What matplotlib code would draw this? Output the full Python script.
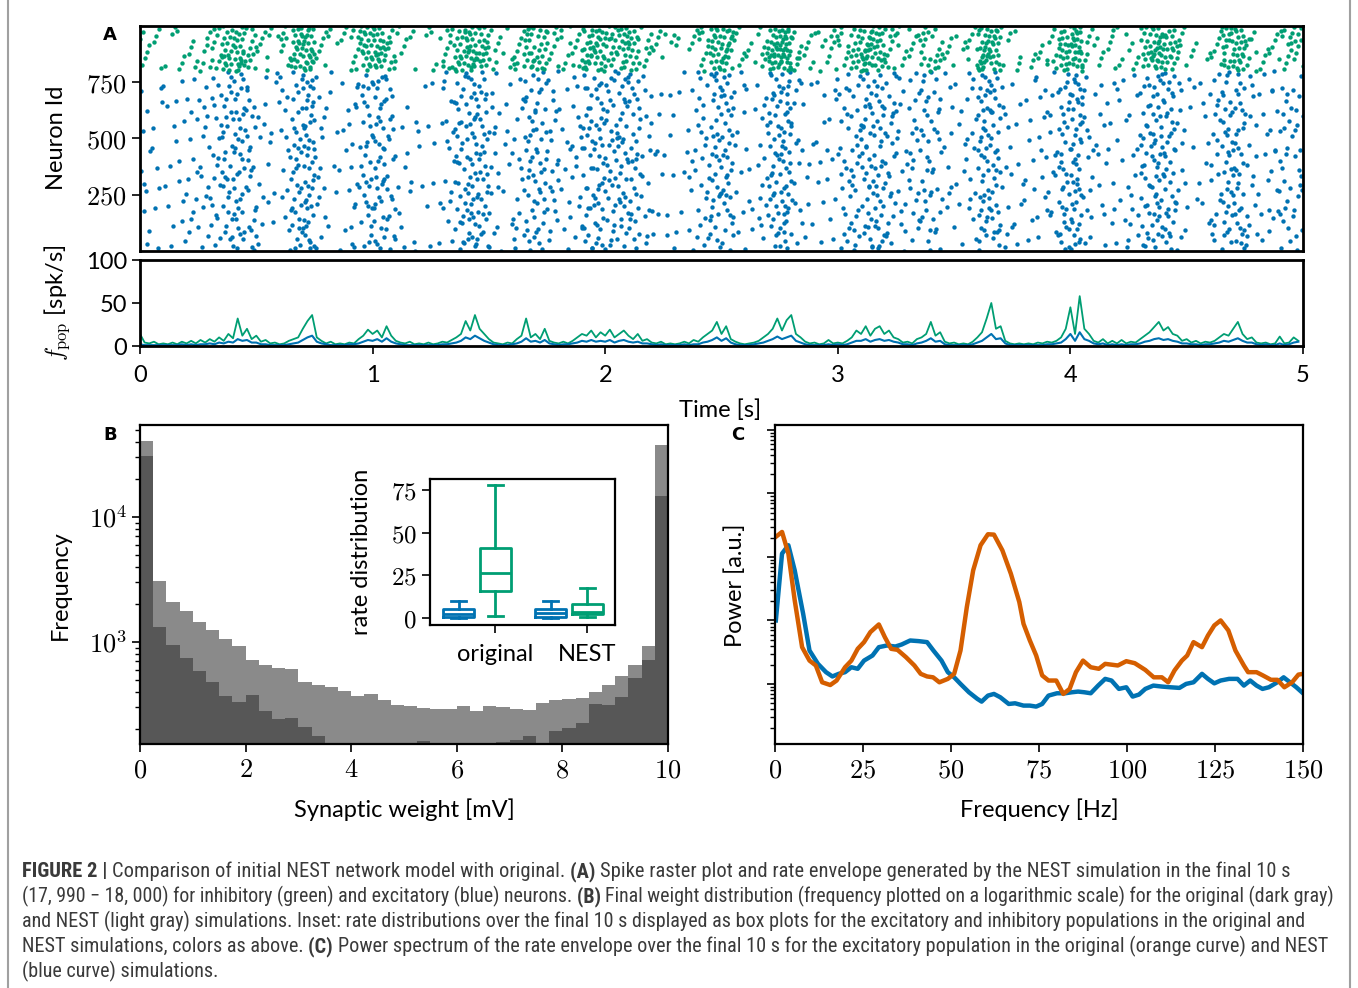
import numpy as np
import matplotlib
matplotlib.use("Agg")
import matplotlib.pyplot as plt
from matplotlib import font_manager as fm
from matplotlib.lines import Line2D
from matplotlib.ticker import FixedLocator, FixedFormatter, NullFormatter, LogLocator

plt.rcParams['mathtext.fontset'] = 'cm'

# ---------------- DATA ----------------
# Raster: spike counts per 50 ms bin (0..5 s)
bin_width = 0.05
exc_counts = [10, 8, 8, 10, 12, 15, 20, 30, 35, 25, 10, 8, 15, 35, 45, 15, 6, 8, 15, 30, 35, 25, 8, 6, 6,
              6, 15, 30, 40, 35, 15, 8, 15, 30, 30, 20, 10, 15, 30, 35, 30, 35, 30, 15, 8, 8, 6, 12, 20, 35,
              35, 10, 8, 15, 35, 45, 15, 8, 8, 10, 20, 25, 35, 35, 25, 15, 20, 25, 20, 10, 8, 15, 40, 35, 12,
              8, 10, 12, 15, 35, 45, 15, 10, 10, 10, 12, 30, 40, 35, 15, 6, 8, 20, 35, 35, 15, 10, 15, 20, 20]
inh_counts = [6, 4, 3, 4, 5, 6, 10, 18, 22, 12, 6, 3, 8, 20, 25, 6, 3, 3, 10, 20, 22, 12, 5, 3, 2,
              4, 10, 18, 25, 18, 6, 4, 8, 18, 15, 8, 6, 8, 20, 20, 15, 18, 15, 8, 5, 3, 2, 4, 10, 20,
              20, 6, 4, 8, 25, 30, 8, 6, 5, 8, 8, 15, 25, 20, 10, 6, 6, 12, 10, 5, 3, 6, 25, 20, 4,
              4, 3, 4, 8, 20, 25, 6, 5, 5, 4, 5, 15, 25, 18, 8, 3, 2, 6, 18, 20, 8, 4, 5, 10, 10]
n_exc = 800
n_inh = 200

# Population rate (20 ms resolution), spk/s
rate_dt = 0.02
rate_inh = [14, 4, 3, 5, 2, 3, 2, 4, 2, 5, 3, 6, 3, 7, 4, 8, 5, 10, 6, 14, 9, 32, 12, 20, 8,
            12, 5, 7, 3, 4, 2, 3, 6, 8, 10, 20, 29, 36, 10, 6, 3, 5, 2, 3, 2, 4, 3, 8, 12, 19,
            14, 18, 10, 23, 12, 6, 4, 3, 5, 2, 3, 2, 4, 2, 3, 5, 4, 7, 10, 14, 29, 18, 36, 20, 14,
            8, 4, 3, 2, 4, 3, 8, 12, 32, 10, 14, 8, 20, 6, 4, 3, 5, 3, 6, 10, 14, 12, 18, 10, 16,
            12, 19, 10, 14, 18, 12, 8, 14, 6, 8, 4, 3, 5, 2, 3, 2, 3, 5, 3, 7, 5, 10, 14, 18, 28,
            14, 23, 8, 5, 3, 2, 3, 4, 6, 10, 14, 20, 32, 18, 30, 36, 14, 10, 5, 3, 4, 2, 3, 7, 3,
            4, 3, 6, 10, 18, 14, 23, 12, 20, 23, 14, 18, 10, 8, 4, 5, 3, 8, 10, 14, 28, 12, 16, 5, 3,
            4, 2, 3, 2, 5, 10, 16, 32, 50, 20, 23, 6, 3, 2, 3, 2, 3, 2, 4, 3, 5, 4, 6, 10, 20,
            45, 14, 58, 20, 14, 6, 4, 8, 3, 6, 3, 7, 3, 5, 4, 8, 12, 16, 22, 28, 18, 22, 14, 12, 6,
            8, 4, 6, 3, 5, 4, 6, 10, 14, 12, 20, 28, 14, 8, 10, 4, 3, 4, 2, 3, 11, 3, 4, 10, 6]
rate_exc = [2, 1, 1, 1, 1, 1, 1, 1, 1, 2, 1, 2, 1, 2, 2, 3, 2, 4, 3, 5, 4, 8, 6, 7, 4,
            4, 2, 2, 1, 1, 1, 1, 2, 3, 4, 7, 10, 12, 5, 3, 2, 1, 1, 1, 1, 2, 2, 3, 5, 7,
            6, 8, 5, 9, 5, 3, 2, 1, 1, 1, 1, 1, 1, 1, 1, 2, 2, 3, 4, 6, 10, 8, 12, 9, 6,
            4, 2, 1, 1, 1, 2, 3, 5, 9, 5, 6, 4, 7, 3, 2, 1, 2, 2, 3, 4, 6, 5, 7, 5, 6,
            5, 7, 4, 6, 7, 5, 4, 5, 3, 3, 2, 1, 2, 1, 1, 1, 1, 2, 1, 2, 2, 4, 5, 7, 10,
            6, 9, 4, 2, 1, 1, 1, 2, 3, 4, 6, 8, 11, 8, 10, 12, 6, 4, 2, 1, 1, 1, 1, 2, 1,
            2, 1, 2, 4, 6, 6, 8, 5, 7, 8, 6, 7, 5, 4, 2, 2, 1, 3, 4, 6, 9, 5, 6, 2, 1,
            1, 1, 1, 1, 2, 4, 6, 10, 14, 8, 9, 3, 1, 1, 1, 1, 1, 1, 1, 1, 2, 2, 3, 4, 8,
            14, 6, 16, 8, 6, 3, 2, 3, 1, 2, 1, 2, 1, 2, 2, 3, 5, 6, 8, 9, 7, 8, 6, 5, 3,
            3, 2, 2, 1, 2, 2, 3, 4, 6, 5, 7, 9, 6, 4, 4, 2, 1, 2, 1, 1, 3, 1, 2, 4, 5]

# Weight histogram (bins of 0.25 mV from 0 to 10)
w_bin = 0.25
hist_nest = [40200, 3080, 2100, 1770, 1450, 1240, 1060, 923, 722, 657, 618, 608, 481, 455, 441, 409,
             371, 385, 344, 314, 308, 299, 290, 294, 308, 283, 308, 304, 290, 287, 328, 344, 353, 360,
             402, 452, 531, 657, 935, 37600]
hist_orig = [30800, 1320, 952, 745, 582, 475, 371, 334, 375, 283, 243, 248, 211, 177, 150, 157,
             157, 155, 140, 140, 140, 163, 140, 140, 140, 140, 157, 160, 165, 177, 140, 195, 205, 225,
             318, 314, 366, 514, 713, 14700]

# Inset box plot stats (rate distribution)
box_labels = ["original", "NEST"]
box_exc_orig = dict(whislo=0.3, q1=0.8, med=2.7, q3=5.3, whishi=10)
box_inh_orig = dict(whislo=1.2, q1=16, med=26.3, q3=41, whishi=78)
box_exc_nest = dict(whislo=0.3, q1=0.8, med=2.9, q3=5.3, whishi=10)
box_inh_nest = dict(whislo=0.4, q1=2.3, med=3.8, q3=8.2, whishi=17.5)

# Power spectra
freq_orig = [0.2, 2.0, 3.8, 5.6, 7.7, 9.8, 11.6, 13.4, 15.7, 17.5, 19.9, 21.7, 23.5, 25.3, 27.1, 29.5,
             31.2, 33.0, 34.8, 37.2, 39.6, 41.4, 43.2, 44.9, 46.7, 49.1, 50.9, 52.7, 54.5, 56.3, 58.4,
             60.5, 62.2, 64.6, 67.0, 69.4, 70.6, 72.4, 74.2, 75.9, 77.7, 79.9, 81.9, 83.7, 85.5, 87.5,
             89.7, 92.0, 93.8, 97.4, 99.8, 102.2, 105.2, 107.6, 109.9, 111.7, 113.5, 115.6, 117.1,
             118.9, 121.3, 123.0, 124.8, 126.6, 128.8, 130.8, 133.2, 134.4, 136.8, 138.6, 140.9,
             142.7, 144.7, 146.9, 148.7, 150.0]
power_orig = [207, 248, 113, 20.7, 3.79, 2.33, 1.95, 1.06, 0.96, 1.13, 1.83, 2.33, 3.57, 4.55, 6.55,
              8.65, 5.46, 3.57, 3.44, 2.64, 1.95, 1.44, 1.31, 1.27, 1.06, 1.20, 1.44, 3.36, 16.3, 61.5,
              153, 228, 225, 127, 54.6, 19.5, 8.85, 4.83, 2.80, 1.36, 1.13, 1.13, 0.695, 0.834, 1.53,
              2.33, 1.83, 1.73, 2.07, 1.95, 2.28, 2.12, 1.66, 1.27, 1.27, 1.06, 1.63, 2.33, 2.80, 4.55,
              3.79, 5.79, 8.34, 10.0, 6.95, 3.36, 1.95, 1.53, 1.53, 1.36, 1.16, 1.16, 0.885, 1.06,
              1.40, 1.44]
freq_nest = [0.24, 2.0, 3.8, 5.6, 8.0, 9.8, 12.2, 14.5, 16.3, 18.1, 19.9, 21.7, 23.5, 25.3, 27.7,
             29.5, 31.8, 34.2, 36.0, 38.4, 40.8, 43.2, 45.0, 47.3, 49.1, 50.9, 52.7, 55.1, 57.5, 58.7,
             60.5, 62.2, 64.0, 66.4, 68.2, 70.6, 72.4, 74.2, 75.9, 77.7, 80.1, 82.5, 84.3, 86.1, 87.9,
             89.7, 91.8, 93.8, 95.6, 97.7, 99.8, 101.6, 103.4, 105.2, 107.5, 109.9, 112.3, 114.9,
             116.8, 118.9, 121.3, 123.0, 124.8, 126.6, 129.0, 131.4, 133.2, 135.0, 136.8, 138.5,
             140.3, 142.7, 144.5, 146.3, 148.1, 150.0]
power_nest = [10.0, 113, 153, 61.5, 12.7, 3.36, 2.07, 1.53, 1.31, 1.44, 1.53, 1.83, 1.73, 2.33, 2.80,
              3.79, 4.03, 3.88, 4.18, 4.83, 4.72, 4.55, 3.36, 2.33, 1.53, 1.27, 1.0, 0.738, 0.580,
              0.526, 0.654, 0.695, 0.616, 0.483, 0.495, 0.455, 0.455, 0.439, 0.483, 0.654, 0.712,
              0.712, 0.738, 0.757, 0.738, 0.712, 0.941, 1.20, 1.13, 0.834, 0.885, 0.631, 0.679, 0.834,
              0.941, 0.908, 0.885, 0.865, 1.0, 1.06, 1.44, 1.20, 1.02, 1.13, 1.20, 1.20, 0.941, 1.13,
              0.941, 0.834, 0.885, 1.06, 1.27, 1.06, 0.885, 0.712]

caption_lines = [
    [("FIGURE 2 | ", "bold"), ("Comparison of initial NEST network model with original. ", "normal"),
     ("(A) ", "bold"), ("Spike raster plot and rate envelope generated by the NEST simulation in the final 10 s", "normal")],
    [("(17, 990 \u2212 18, 000) for inhibitory (green) and excitatory (blue) neurons. ", "normal"), ("(B) ", "bold"),
     ("Final weight distribution (frequency plotted on a logarithmic scale) for the original (dark gray)", "normal")],
    [("and NEST (light gray) simulations. Inset: rate distributions over the final 10 s displayed as box plots for the excitatory and inhibitory populations in the original and", "normal")],
    [("NEST simulations, colors as above. ", "normal"), ("(C) ", "bold"),
     ("Power spectrum of the rate envelope over the final 10 s for the excitatory population in the original (orange curve) and NEST", "normal")],
    [("(blue curve) simulations.", "normal")],
]
caption_line_ends = [1283, 1338, 1303, 1327, None]

# ---------------- STYLE ----------------
BLUE = "#0072b2"
GREEN = "#009e73"
ORANGE = "#d55e00"
W, H = 1358, 988


def has_font(name):
    try:
        fm.findfont(fm.FontProperties(family=name), fallback_to_default=False)
        return True
    except Exception:
        return False


SANS = next(f for f in ["Lato", "DejaVu Sans"] if has_font(f))
CAPF = next(f for f in ["Liberation Sans Narrow", "Roboto Condensed", "Roboto", "Liberation Sans", "DejaVu Sans"] if has_font(f))
plt.rcParams['font.family'] = [SANS, 'DejaVu Sans']

fig = plt.figure(figsize=(W / 100, H / 100), dpi=100)


def ax_rect(l, t, r, b):
    return [l / W, 1 - b / H, (r - l) / W, (b - t) / H]


def style_axes(ax, lw=1.6):
    for s in ax.spines.values():
        s.set_linewidth(lw)
    ax.tick_params(direction='out', length=6, width=1.2)


def mlabels(vals):
    return ["$%s$" % v for v in vals]


def radical_inverse(k, base):
    f, r = 1.0, 0.0
    while k > 0:
        f /= base
        r += f * (k % base)
        k //= base
    return r


# ---- Raster (spikes placed within their 50 ms bin by a low-discrepancy layout) ----
ax_r = fig.add_axes(ax_rect(140, 26, 1303, 251))
g1, g2 = 0.6180339887, 0.7548776662
te, ne, ti, ni = [], [], [], []
k = 0
for i, c in enumerate(exc_counts):
    for j in range(c):
        k += 1
        te.append((i + (radical_inverse(k, 2) + i * g1) % 1) * bin_width)
        ne.append(((radical_inverse(k, 3) + i * g2) % 1) * n_exc)
k = 0
for i, c in enumerate(inh_counts):
    for j in range(c):
        k += 1
        ti.append((i + (radical_inverse(k, 5) + i * g2) % 1) * bin_width)
        ni.append(n_exc + ((radical_inverse(k, 7) + i * g1) % 1) * n_inh)
ax_r.scatter(te, ne, s=10, c=BLUE, linewidths=0)
ax_r.scatter(ti, ni, s=10, c=GREEN, linewidths=0)
ax_r.set_xlim(0, 5)
ax_r.set_ylim(0, 1000)
ax_r.set_xticks([])
ax_r.yaxis.set_major_locator(FixedLocator([250, 500, 750]))
ax_r.yaxis.set_major_formatter(FixedFormatter(mlabels([250, 500, 750])))
style_axes(ax_r, 2.0)
ax_r.tick_params(axis='y', labelsize=19)

# ---- Rate ----
ax_f = fig.add_axes(ax_rect(140, 260, 1303, 346))
tr = np.arange(len(rate_inh)) * rate_dt
ax_f.plot(tr, rate_inh, color=GREEN, lw=1.3)
ax_f.plot(tr, rate_exc, color=BLUE, lw=1.5)
ax_f.set_xlim(0, 5)
ax_f.set_ylim(0, 100)
ax_f.set_yticks([0, 50, 100])
ax_f.set_xticks([0, 1, 2, 3, 4, 5])
style_axes(ax_f, 2.0)
ax_f.tick_params(labelsize=17)
ax_f.tick_params(axis='x', pad=8)

fig.text(57 / W, 1 - 138 / H, "Neuron Id", rotation=90, ha='center', va='center', fontsize=17)
fig.text(57 / W, 1 - 303 / H, r"$f_{\mathrm{pop}}$ [spk/s]", rotation=90, ha='center', va='center', fontsize=17)
fig.text(720 / W, 1 - 410 / H, "Time [s]", ha='center', va='center', fontsize=17)

# ---- Histogram ----
ax_h = fig.add_axes(ax_rect(140, 425, 668, 744))
edges = np.arange(len(hist_nest)) * w_bin
ax_h.bar(edges, hist_nest, width=w_bin, align='edge', color="#8a8a8a", linewidth=0)
ax_h.bar(edges, hist_orig, width=w_bin, align='edge', color="#575757", linewidth=0)
ax_h.set_yscale('log')
ax_h.set_ylim(153, 54400)
ax_h.set_xlim(0, 10)
ax_h.yaxis.set_major_locator(FixedLocator([1e3, 1e4]))
ax_h.yaxis.set_major_formatter(FixedFormatter(["$10^3$", "$10^4$"]))
ax_h.yaxis.set_minor_locator(LogLocator(base=10, subs=np.arange(2, 10)))
ax_h.yaxis.set_minor_formatter(NullFormatter())
ax_h.xaxis.set_major_locator(FixedLocator([0, 2, 4, 6, 8, 10]))
ax_h.xaxis.set_major_formatter(FixedFormatter(mlabels([0, 2, 4, 6, 8, 10])))
style_axes(ax_h)
ax_h.tick_params(labelsize=19)
ax_h.tick_params(which='minor', length=3.5, width=1.0, direction='out')
fig.text(60 / W, 1 - 585 / H, "Frequency", rotation=90, ha='center', va='center', fontsize=17)
fig.text(404 / W, 1 - 810 / H, "Synaptic weight [mV]", ha='center', va='center', fontsize=17)

# ---- Inset ----
ax_i = fig.add_axes(ax_rect(430, 479, 615, 625))
stats = [box_exc_orig, box_inh_orig, box_exc_nest, box_inh_nest]
cols = [BLUE, GREEN, BLUE, GREEN]
pos = [0.6, 1.0, 1.6, 2.0]
for st, c, p in zip(stats, cols, pos):
    d = dict(st)
    d['fliers'] = []
    ax_i.bxp([d], positions=[p], widths=0.33, capwidths=0.17, showfliers=False,
             boxprops=dict(color=c, lw=2.0), whiskerprops=dict(color=c, lw=2.0),
             capprops=dict(color=c, lw=2.0), medianprops=dict(color=c, lw=2.0))
ax_i.set_xlim(0.29, 2.30)
ax_i.set_ylim(-4, 81.5)
ax_i.xaxis.set_major_locator(FixedLocator([1.0, 2.0]))
ax_i.xaxis.set_major_formatter(FixedFormatter(box_labels))
ax_i.yaxis.set_major_locator(FixedLocator([0, 25, 50, 75]))
ax_i.yaxis.set_major_formatter(FixedFormatter(mlabels([0, 25, 50, 75])))
style_axes(ax_i, 1.6)
ax_i.tick_params(axis='y', labelsize=18)
ax_i.tick_params(axis='x', labelsize=17, pad=8)
fig.text(362 / W, 1 - 552 / H, "rate distribution", rotation=90, ha='center', va='center', fontsize=17)

# ---- Spectrum ----
ax_s = fig.add_axes(ax_rect(775, 425, 1303, 744))
ax_s.plot(freq_nest, power_nest, color=BLUE, lw=3.2)
ax_s.plot(freq_orig, power_orig, color=ORANGE, lw=3.2)
ax_s.set_yscale('log')
ax_s.set_ylim(0.113, 12000)
ax_s.set_xlim(0, 150)
ax_s.yaxis.set_major_locator(LogLocator(base=10))
ax_s.yaxis.set_minor_locator(LogLocator(base=10, subs=np.arange(2, 10)))
ax_s.yaxis.set_major_formatter(NullFormatter())
ax_s.yaxis.set_minor_formatter(NullFormatter())
ax_s.xaxis.set_major_locator(FixedLocator([0, 25, 50, 75, 100, 125, 150]))
ax_s.xaxis.set_major_formatter(FixedFormatter(mlabels([0, 25, 50, 75, 100, 125, 150])))
style_axes(ax_s)
ax_s.tick_params(labelsize=19)
ax_s.tick_params(which='minor', length=3.5, width=1.0, direction='out')
fig.text(735 / W, 1 - 585 / H, "Power [a.u.]", rotation=90, ha='center', va='center', fontsize=17)
fig.text(1039 / W, 1 - 810 / H, "Frequency [Hz]", ha='center', va='center', fontsize=17)

# ---- Panel letters ----
for lx, ly, lt in [(110, 35, "A"), (110, 435, "B"), (738, 435, "C")]:
    fig.text(lx / W, 1 - ly / H, lt, ha='center', va='center', fontsize=13, fontweight='bold', family='DejaVu Sans')

# ---- Frame ----
for xx in (8, 1350):
    fig.add_artist(Line2D([xx / W, xx / W], [0, 1], color="#a0a0a0", lw=1.5, transform=fig.transFigure))

# ---- Caption ----
renderer = fig.canvas.get_renderer()


def draw_line(segs, x0, ybase, size, draw=True):
    cur = x0
    arts = []
    for txt, wt in segs:
        t = fig.text(cur / W, 1 - ybase / H, txt, fontsize=size, fontweight=wt, family=CAPF,
                     color="#3a3a3a", ha='left', va='baseline')
        bb = t.get_window_extent(renderer)
        cur += bb.width
        arts.append(t)
    if not draw:
        for a in arts:
            a.remove()
    return cur - x0


base = 12.0
sizes = []
for segs, xe in zip(caption_lines, caption_line_ends):
    if xe is None:
        sizes.append(None)
        continue
    w = draw_line(segs, 22, 877, base, draw=False)
    sizes.append(base * (xe - 22) / w)
mean_size = float(np.mean([s for s in sizes if s is not None]))
for i, segs in enumerate(caption_lines):
    s = sizes[i] if sizes[i] is not None else mean_size
    draw_line(segs, 22, 877 + 25 * i, s)

fig.savefig("out.png", dpi=100)
